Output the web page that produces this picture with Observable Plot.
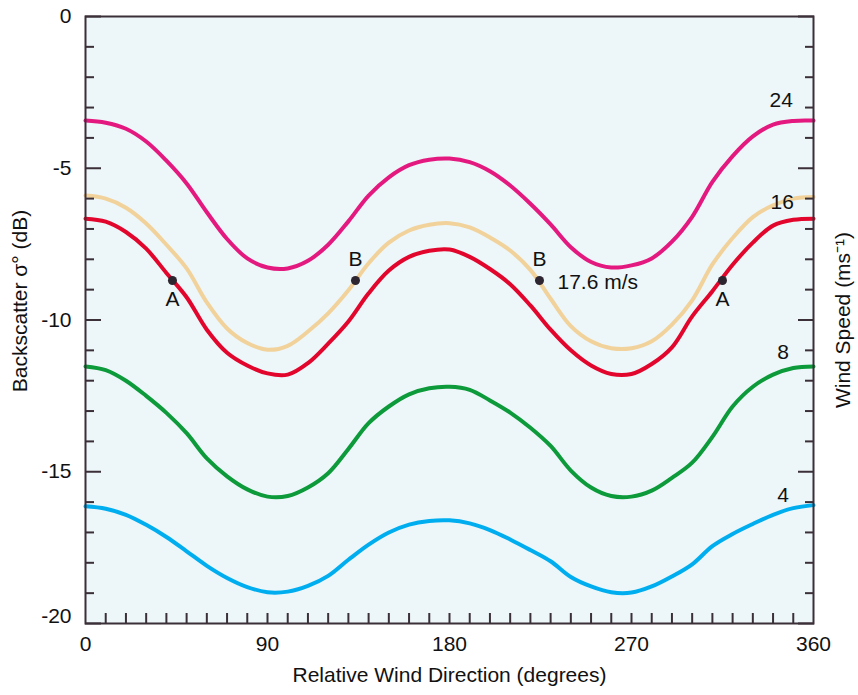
<!DOCTYPE html>
<html>
<head>
<meta charset="utf-8">
<script src="https://cdn.jsdelivr.net/npm/d3@7"></script>
<script src="https://cdn.jsdelivr.net/npm/@observablehq/plot@0.6"></script>
<style>
  body { margin: 0; background: #ffffff; }
  #chart { width: 858px; height: 695px; }
</style>
</head>
<body>
<div id="chart"></div>
<script>
// Relative wind direction sample grid (degrees)
const direction = [0,10,20,30,40,50,60,70,80,90,100,110,120,130,140,150,160,170,180,
  190,200,210,220,230,240,250,260,270,280,290,300,310,320,330,340,350,360];

// Backscatter sigma0 (dB) per wind speed
const sigma24 = [-3.43,-3.50,-3.70,-4.12,-4.75,-5.50,-6.45,-7.33,-7.97,-8.27,-8.30,-8.05,-7.52,-6.75,-5.90,-5.30,-4.90,-4.72,-4.68,
  -4.80,-5.10,-5.57,-6.17,-6.85,-7.60,-8.09,-8.27,-8.20,-7.97,-7.42,-6.60,-5.45,-4.60,-3.95,-3.56,-3.44,-3.43];
const sigma176 = [-5.90,-6.00,-6.30,-6.82,-7.52,-8.30,-9.42,-10.28,-10.76,-10.98,-10.85,-10.38,-9.78,-9.02,-8.13,-7.45,-7.05,-6.86,-6.81,
  -6.95,-7.28,-7.71,-8.35,-9.30,-10.20,-10.70,-10.93,-10.93,-10.70,-10.15,-9.35,-8.17,-7.30,-6.61,-6.22,-6.00,-5.95];
const sigma16 = [-6.66,-6.76,-7.10,-7.65,-8.45,-9.25,-10.32,-11.08,-11.50,-11.76,-11.80,-11.42,-10.78,-10.05,-9.12,-8.37,-7.92,-7.72,-7.68,
  -7.92,-8.32,-8.82,-9.52,-10.32,-11.00,-11.50,-11.78,-11.78,-11.45,-10.90,-9.88,-9.05,-8.18,-7.45,-6.89,-6.70,-6.66];
const sigma8 = [-11.53,-11.65,-12.00,-12.50,-13.06,-13.73,-14.56,-15.15,-15.58,-15.82,-15.80,-15.52,-15.05,-14.25,-13.40,-12.85,-12.45,-12.25,-12.20,
  -12.30,-12.65,-13.05,-13.55,-14.15,-14.96,-15.52,-15.80,-15.82,-15.62,-15.20,-14.70,-13.85,-12.85,-12.20,-11.80,-11.58,-11.53];
const sigma4 = [-16.14,-16.22,-16.42,-16.75,-17.15,-17.62,-18.10,-18.50,-18.80,-18.97,-18.95,-18.76,-18.43,-17.90,-17.40,-17.00,-16.74,-16.62,-16.60,
  -16.70,-16.92,-17.23,-17.58,-17.95,-18.47,-18.78,-18.97,-18.98,-18.78,-18.45,-18.05,-17.45,-17.05,-16.72,-16.42,-16.20,-16.10];

const speeds = ["4", "8", "16", "17.6", "24"];
const speedSeries = [sigma4, sigma8, sigma16, sigma176, sigma24];
const speedColors = ["#00aeef", "#0c9a3a", "#e2062d", "#f2d29b", "#e4197f"];

// Curve labels (wind speed, m/s)
const curveLabelText = ["24", "16", "8", "4"];
const curveLabelDir = [344, 344.5, 345, 345];
const curveLabelSigma = [-2.77, -6.12, -11.07, -15.78];

// Marked points A and B
const pointName = ["A", "B", "B", "A"];
const pointDir = [43, 133.5, 224.5, 315];
const pointSigma = [-8.7, -8.7, -8.7, -8.7];

// Axis ticks
const yMajor = [0, -5, -10, -15, -20];
const yMinor = [-1,-2,-3,-4,-6,-7,-8,-9,-11,-12,-13,-14,-16,-17,-18,-19];
const xLabels = [0, 90, 180, 270, 360];
const xMinor = [10,20,30,40,50,60,70,80,90,100,110,120,130,140,150,160,170,180,
  190,200,210,220,230,240,250,260,270,280,290,300,310,320,330,340,350];

// Build tidy table
const curves = [];
speeds.forEach((s, i) => {
  direction.forEach((d, j) => curves.push({speed: s, dir: d, sigma: speedSeries[i][j]}));
});
const points = pointName.map((n, i) => ({name: n, dir: pointDir[i], sigma: pointSigma[i]}));
const curveLabels = curveLabelText.map((t, i) => ({text: t, dir: curveLabelDir[i], sigma: curveLabelSigma[i]}));

const ink = "#3b2f38";
const axisStyle = {stroke: ink, strokeWidth: 2, label: null};

const chart = Plot.plot({
  width: 858,
  height: 695,
  marginLeft: 85,
  marginRight: 45,
  marginTop: 16,
  marginBottom: 72,
  x: {domain: [0, 360]},
  y: {domain: [-20, 0]},
  color: {domain: speeds, range: speedColors},
  style: {fontFamily: "'Liberation Sans', Arial, Helvetica, sans-serif", fontSize: "21px", color: "#111", background: "#ffffff", overflow: "visible"},
  marks: [
    Plot.frame({fill: "#edf6f9", stroke: null}),
    Plot.line(curves, {x: "dir", y: "sigma", z: "speed", stroke: "speed", strokeWidth: 4, curve: "catmull-rom"}),
    // inward ticks
    Plot.axisY(yMinor, {anchor: "left", tickSize: -9, fill: "none", ...axisStyle}),
    Plot.axisY(yMajor, {anchor: "left", tickSize: -16, fill: "none", ...axisStyle}),
    Plot.axisY(yMinor, {anchor: "right", tickSize: -9, fill: "none", ...axisStyle}),
    Plot.axisY(yMajor, {anchor: "right", tickSize: -16, fill: "none", ...axisStyle}),
    Plot.axisX(xMinor, {anchor: "bottom", tickSize: -10, fill: "none", ...axisStyle}),
    // tick labels
    Plot.axisY(yMajor.slice(0, 4), {anchor: "left", tickSize: 0, tickPadding: 14, fill: "#111", label: null, tickFormat: d => String(d)}),
    Plot.axisY([-20], {anchor: "left", tickSize: 0, tickPadding: 14, dy: -7, fill: "#111", label: null, tickFormat: d => String(d)}),
    Plot.axisX(xLabels, {anchor: "bottom", tickSize: 0, tickPadding: 13, fill: "#111", label: null, tickFormat: d => String(d)}),
    Plot.frame({stroke: ink, strokeWidth: 2}),
    // points
    Plot.dot(points, {x: "dir", y: "sigma", r: 4.5, fill: "#2d2530"}),
    Plot.text(points.filter(p => p.name === "A"), {x: "dir", y: "sigma", text: "name", dy: 19, fill: "#111"}),
    Plot.text(points.filter(p => p.name === "B"), {x: "dir", y: "sigma", text: "name", dy: -21, fill: "#111"}),
    Plot.text([points[2]], {x: "dir", y: "sigma", text: () => "17.6 m/s", dx: 18, dy: 2, textAnchor: "start", fill: "#111"}),
    Plot.text(curveLabels, {x: "dir", y: "sigma", text: "text", fill: "#111"}),
    // axis titles
    Plot.text(["Backscatter σ° (dB)"], {frameAnchor: "left", textAnchor: "middle", text: d => d, rotate: -90, dx: -65, dy: -19, fill: "#111"}),
    Plot.text(["Wind Speed (ms⁻¹)"], {frameAnchor: "right", textAnchor: "middle", text: d => d, rotate: -90, dx: 30, fill: "#111"}),
    Plot.text(["Relative Wind Direction (degrees)"], {frameAnchor: "bottom", textAnchor: "middle", text: d => d, dy: 58, fill: "#111"})
  ]
});
document.getElementById("chart").appendChild(chart);
</script>
</body>
</html>
